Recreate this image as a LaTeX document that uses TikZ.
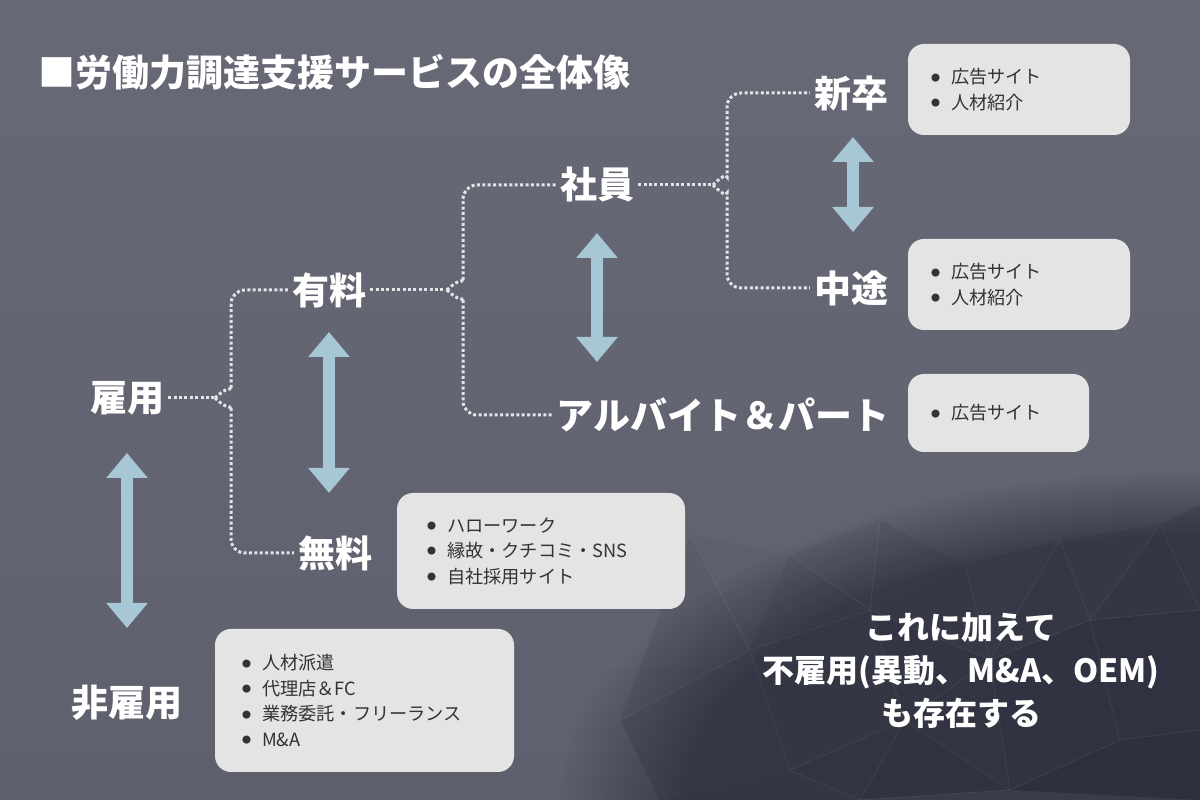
\documentclass[tikz,border=0pt]{standalone}
\usepackage{fontspec}
\setmainfont{Noto Sans CJK JP}
\usetikzlibrary{arrows.meta,calc,fadings}
\definecolor{bgtop}{RGB}{104,105,118}
\definecolor{bgbot}{RGB}{95,96,109}
\definecolor{polyc}{RGB}{28,31,46}
\definecolor{dotc}{RGB}{228,228,232}
\definecolor{arrc}{RGB}{167,199,212}
\definecolor{boxc}{RGB}{228,228,228}
\definecolor{txtc}{RGB}{51,51,51}
\newcommand\mybul{\makebox[20pt][l]{\raisebox{2.6pt}{\fontsize{9}{9}\selectfont ●}}}
\tikzset{
  dotl/.style={draw=dotc, line width=3pt, dash pattern=on 3pt off 2.4pt},
  lab/.style={text=white, font=\bfseries\fontsize{37}{40}\selectfont, inner sep=4pt},
  bx/.style={fill=boxc, rounded corners=16pt, text=txtc, font=\fontsize{18.2}{25.5}\selectfont, align=left, inner ysep=0pt},
  bigarrow/.style={draw=arrc, line width=12pt, {Triangle[width=40pt,length=25pt]}-{Triangle[width=40pt,length=25pt]}},
  poly/.style={fill=polyc, fill opacity=#1},
  edge/.style={draw=white, draw opacity=.09, line width=.6pt}
}
\begin{document}
\begin{tikzpicture}[x=1pt,y=1pt]
\useasboundingbox (0,0) rectangle (1200,800);
\shade[top color=bgtop, bottom color=bgbot] (0,0) rectangle (1200,800);
% soft darkening towards the bottom right
\fill[polyc, path fading=circle with fuzzy edge 20 percent, fill opacity=.55] (1200,0) ellipse (640 and 330);
% decorative low-poly texture (bottom right)
\begin{scope}[shift={(0,800)},yscale=-1]
\coordinate (V1) at (690,535); \coordinate (V2) at (790,555); \coordinate (V3) at (880,520);
\coordinate (V4) at (965,565); \coordinate (V5) at (1060,540); \coordinate (V6) at (1160,525);
\coordinate (V7) at (1200,505); \coordinate (V8) at (620,720); \coordinate (V9) at (750,650);
\coordinate (V10) at (870,610); \coordinate (V11) at (990,660); \coordinate (V12) at (1090,620);
\coordinate (V13) at (1200,610); \coordinate (V14) at (660,800); \coordinate (V15) at (790,770);
\coordinate (V16) at (905,720); \coordinate (V17) at (1010,790); \coordinate (V18) at (1120,740);
\coordinate (V19) at (1200,730); \coordinate (V20) at (1200,800); \coordinate (V21) at (860,800);
\fill[poly=.06] (V1) -- (V2) -- (V9) -- cycle;
\fill[poly=.1] (V1) -- (V9) -- (V8) -- cycle;
\fill[poly=.08] (V2) -- (V3) -- (V10) -- cycle;
\fill[poly=.14] (V2) -- (V10) -- (V9) -- cycle;
\fill[poly=.1] (V3) -- (V4) -- (V10) -- cycle;
\fill[poly=.16] (V4) -- (V11) -- (V10) -- cycle;
\fill[poly=.12] (V4) -- (V5) -- (V11) -- cycle;
\fill[poly=.18] (V5) -- (V12) -- (V11) -- cycle;
\fill[poly=.14] (V5) -- (V6) -- (V12) -- cycle;
\fill[poly=.22] (V6) -- (V13) -- (V12) -- cycle;
\fill[poly=.18] (V6) -- (V7) -- (V13) -- cycle;
\fill[poly=.14] (V8) -- (V9) -- (V15) -- (V14) -- cycle;
\fill[poly=.2] (V9) -- (V10) -- (V16) -- (V15) -- cycle;
\fill[poly=.24] (V10) -- (V11) -- (V16) -- cycle;
\fill[poly=.26] (V11) -- (V17) -- (V16) -- cycle;
\fill[poly=.3] (V11) -- (V12) -- (V18) -- (V17) -- cycle;
\fill[poly=.34] (V12) -- (V13) -- (V19) -- (V18) -- cycle;
\fill[poly=.26] (V15) -- (V16) -- (V21) -- cycle;
\fill[poly=.3] (V16) -- (V17) -- (V21) -- cycle;
\fill[poly=.38] (V17) -- (V18) -- (V19) -- (V20) -- cycle;
\fill[poly=.2] (V14) -- (V15) -- (V21) -- cycle;
\draw[edge] (V8) -- (V9) -- (V10) -- (V11) -- (V12) -- (V13);
\draw[edge] (V1) -- (V9) -- (V15) -- (V16) -- (V17) -- (V18) -- (V19);
\draw[edge] (V2) -- (V10) -- (V16) -- (V11) -- (V17) -- (V21);
\draw[edge] (V3) -- (V10) (V4) -- (V11) -- (V5) -- (V12) -- (V6) -- (V13);
\draw[edge] (V12) -- (V18) (V15) -- (V21) -- (V16);
\end{scope}

% title
\node[anchor=west, text=white, font=\bfseries\fontsize{37}{40}\selectfont, inner sep=0pt] (title) at (38,728) {■労働力調達支援サービスの全体像};

% labels
\node[lab] (koyo) at (127,402) {雇用};
\node[lab] (hikoyo) at (127,97) {非雇用};
\node[lab] (yuryo) at (329,510) {有料};
\node[lab] (muryo) at (335,247) {無料};
\node[lab] (shain) at (597,615) {社員};
\node[lab] (arubaito) at (723,385) {アルバイト＆パート};
\node[lab] (shinsotsu) at (851,707) {新卒};
\node[lab] (chuto) at (851,512) {中途};

% braces
\coordinate (t1) at (215,402);
\coordinate (t2) at (447,510);
\coordinate (t3) at (713,615);
\draw[dotl] (koyo.east) -- (t1);
\draw[dotl, rounded corners=14pt] (t1) to[out=45,in=-90] ([shift={(16,22)}]t1) |- (yuryo.west);
\draw[dotl, rounded corners=14pt] (t1) to[out=-45,in=90] ([shift={(16,-22)}]t1) |- (muryo.west);
\draw[dotl] (yuryo.east) -- (t2);
\draw[dotl, rounded corners=14pt] (t2) to[out=45,in=-90] ([shift={(16,22)}]t2) |- (shain.west);
\draw[dotl, rounded corners=14pt] (t2) to[out=-45,in=90] ([shift={(16,-22)}]t2) |- (arubaito.west);
\draw[dotl] (shain.east) -- (t3);
\draw[dotl, rounded corners=14pt] (t3) to[out=45,in=-90] ([shift={(14,22)}]t3) |- (shinsotsu.west);
\draw[dotl, rounded corners=14pt] (t3) to[out=-45,in=90] ([shift={(14,-22)}]t3) |- (chuto.west);

% double arrows
\coordinate (m1) at (yuryo |- muryo);
\coordinate (m2) at (shain |- arubaito);
\draw[bigarrow] ([yshift=-55pt]koyo.center) -- ([yshift=75pt]hikoyo.center);
\draw[bigarrow] ([yshift=-42pt]yuryo.center) -- ([yshift=60pt]m1);
\draw[bigarrow] ([yshift=-48pt]shain.center) -- ([yshift=53pt]m2);
\draw[bigarrow] ([shift={(2pt,-44pt)}]shinsotsu.center) -- ([shift={(2pt,56pt)}]chuto.center);

% boxes
\node[bx, text width=176pt, inner xsep=23pt, minimum height=91pt] (b1) at (1019,710.5) {\mybul 広告サイト\\\mybul 人材紹介};
\node[bx, text width=176pt, inner xsep=23pt, minimum height=91pt] (b2) at (1019,515.5) {\mybul 広告サイト\\\mybul 人材紹介};
\node[bx, text width=135pt, inner xsep=23pt, minimum height=78pt] (b3) at (998.5,387) {\mybul 広告サイト};
\node[bx, text width=228pt, inner xsep=30pt, minimum height=116pt] (b4) at (541,249) {\mybul ハローワーク\\\mybul 縁故・クチコミ・SNS\\\mybul 自社採用サイト};
\node[bx, text width=245pt, inner xsep=27pt, minimum height=143pt] (b5) at (364.5,99.5) {\mybul 人材派遣\\\mybul 代理店＆FC\\\mybul 業務委託・フリーランス\\\mybul M\&A};

% note
\node[text=white, font=\bfseries\fontsize{32}{43}\selectfont, align=center] (note) at (961,129) {これに加えて\\不雇用(異動、M\&A、OEM)\\も存在する};
\end{tikzpicture}
\end{document}
